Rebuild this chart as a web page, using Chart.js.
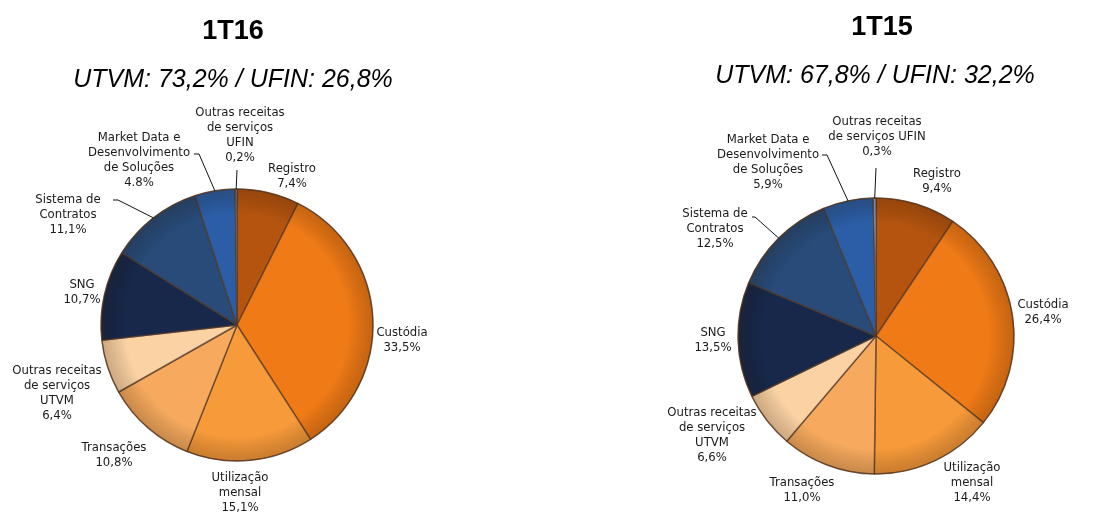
<!DOCTYPE html>
<html>
<head>
<meta charset="utf-8">
<script src="https://cdn.jsdelivr.net/npm/chart.js@4.4.0/dist/chart.umd.min.js"></script>
<style>
  body { margin: 0; background: #fff; width: 1097px; height: 515px; overflow: hidden; position: relative; }
  canvas { position: absolute; top: 0; }
  #c16 { left: 0; }
  #c15 { left: 548px; }
</style>
</head>
<body>
<canvas id="c16" width="548" height="515"></canvas>
<canvas id="c15" width="549" height="515"></canvas>
<script>
// dados
const categorias = ['Registro', 'Custódia', 'Utilização mensal', 'Transações',
    'Outras receitas de serviços UTVM', 'SNG', 'Sistema de Contratos',
    'Market Data e Desenvolvimento de Soluções', 'Outras receitas de serviços UFIN'];
const valores1T16 = [7.4, 33.5, 15.1, 10.8, 6.4, 10.7, 11.1, 4.8, 0.2];
const valores1T15 = [9.4, 26.4, 14.4, 11.0, 6.6, 13.5, 12.5, 5.9, 0.3];
const textos1T16 = ['7,4%', '33,5%', '15,1%', '10,8%', '6,4%', '10,7%', '11,1%', '4.8%', '0,2%'];
const textos1T15 = ['9,4%', '26,4%', '14,4%', '11,0%', '6,6%', '13,5%', '12,5%', '5,9%', '0,3%'];
const rotulos1T16 = [['Registro'], ['Custódia'], ['Utilização', 'mensal'], ['Transações'],
    ['Outras receitas', 'de serviços', 'UTVM'], ['SNG'], ['Sistema de', 'Contratos'],
    ['Market Data e', 'Desenvolvimento', 'de Soluções'], ['Outras receitas', 'de serviços', 'UFIN']];
const rotulos1T15 = [['Registro'], ['Custódia'], ['Utilização', 'mensal'], ['Transações'],
    ['Outras receitas', 'de serviços', 'UTVM'], ['SNG'], ['Sistema de', 'Contratos'],
    ['Market Data e', 'Desenvolvimento', 'de Soluções'], ['Outras receitas', 'de serviços UFIN']];

const cores = ['#b5540f', '#f07a16', '#f79a3a', '#f7aa5e', '#fbd2a4',
    '#17284a', '#284b79', '#2b5ea6', '#9dbde4'];

// posição dos rótulos (relativa ao centro da pizza) e linhas de chamada
const pos1T16 = [[55, -149], [165, 15], [3, 168], [-123, 130], [-180, 68], [-155, -33], [-169, -110], [-98, -165], [3, -190]];
const guia1T16 = [null, null, null, null, null, null, [-119, -125, -124], [-38, -171, -43], [0, -155, 0]];
const pos1T15 = [[61, -155], [167, -24], [96, 147], [-74, 154], [-164, 99], [-163, 4], [-161, -107], [-108, -174], [1, -199]];
const guia1T15 = [null, null, null, null, null, null, [-121, -119, -124], [-49, -181, -54], [0, -168, 0]];

const rotulosPlugin = {
    id: 'rotulos',
    afterDatasetsDraw(chart, args, opts) {
        const ctx = chart.ctx;
        const arcs = chart.getDatasetMeta(0).data;
        const cx = arcs[0].x, cy = arcs[0].y, r = arcs[0].outerRadius;
        ctx.save();
        // sombra na borda (efeito 3D)
        const g = ctx.createRadialGradient(cx, cy, r * 0.82, cx, cy, r);
        g.addColorStop(0, 'rgba(0,0,0,0)');
        g.addColorStop(1, 'rgba(40,20,0,0.22)');
        ctx.fillStyle = g;
        ctx.beginPath();
        ctx.arc(cx, cy, r, 0, Math.PI * 2);
        ctx.fill();
        ctx.strokeStyle = 'rgba(90,50,20,0.6)';
        ctx.lineWidth = 1;
        ctx.stroke();

        // linhas de chamada
        ctx.strokeStyle = '#111';
        ctx.lineWidth = 1;
        arcs.forEach((arc, i) => {
            const gd = opts.guias[i];
            if (!gd) return;
            const a = (arc.startAngle + arc.endAngle) / 2;
            ctx.beginPath();
            ctx.moveTo(cx + Math.cos(a) * r, cy + Math.sin(a) * r);
            ctx.lineTo(cx + gd[0], cy + gd[1]);
            if (gd[2] !== gd[0]) ctx.lineTo(cx + gd[2], cy + gd[1]);
            ctx.stroke();
        });

        // textos
        ctx.fillStyle = '#1a1a1a';
        ctx.font = '11.7px "DejaVu Sans"';
        ctx.textAlign = 'center';
        ctx.textBaseline = 'middle';
        arcs.forEach((arc, i) => {
            const linhas = opts.rotulos[i].concat([opts.textos[i]]);
            const p = opts.posicoes[i];
            const y0 = cy + p[1] - (linhas.length - 1) * 15 / 2;
            linhas.forEach((t, k) => ctx.fillText(t, cx + p[0], y0 + k * 15));
        });

        // títulos
        ctx.fillStyle = '#000';
        ctx.textBaseline = 'alphabetic';
        ctx.font = 'bold 27px "Liberation Sans", Arial';
        ctx.fillText(opts.titulo, opts.tituloX, opts.tituloY);
        ctx.font = 'italic 25px "Liberation Sans", Arial';
        ctx.fillText(opts.subtitulo, opts.subX, opts.subY);
        ctx.restore();
    }
};

function criaPizza(id, valores, raio, padding, plug) {
    return new Chart(document.getElementById(id), {
        type: 'pie',
        data: {
            labels: categorias,
            datasets: [{
                data: valores,
                backgroundColor: cores,
                borderColor: 'rgba(80,55,40,0.7)',
                borderWidth: 1.5,
                radius: raio
            }]
        },
        options: {
            responsive: false,
            animation: false,
            layout: { padding: padding },
            plugins: {
                legend: { display: false },
                tooltip: { enabled: false },
                rotulos: plug
            }
        },
        plugins: [rotulosPlugin]
    });
}

criaPizza('c16', valores1T16, 136, { left: 101, right: 175, top: 189, bottom: 54 }, {
    rotulos: rotulos1T16, textos: textos1T16, posicoes: pos1T16, guias: guia1T16,
    titulo: '1T16', tituloX: 233, tituloY: 39,
    subtitulo: 'UTVM: 73,2% / UFIN: 26,8%', subX: 233, subY: 87
});

criaPizza('c15', valores1T15, 138, { left: 190, right: 83, top: 198, bottom: 41 }, {
    rotulos: rotulos1T15, textos: textos1T15, posicoes: pos1T15, guias: guia1T15,
    titulo: '1T15', tituloX: 334, tituloY: 35,
    subtitulo: 'UTVM: 67,8% / UFIN: 32,2%', subX: 327, subY: 83
});
</script>
</body>
</html>
